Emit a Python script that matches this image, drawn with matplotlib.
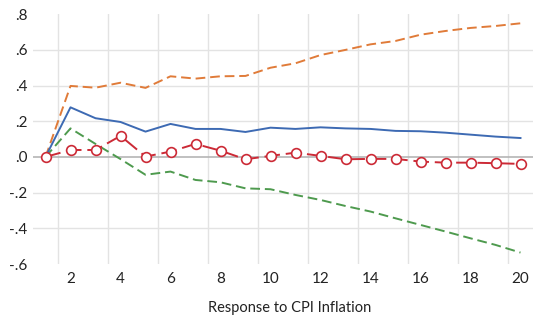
import matplotlib
matplotlib.use("Agg")
import matplotlib.pyplot as plt
import numpy as np

plt.rcParams['font.family'] = ['Lato', 'DejaVu Sans']

periods = list(range(1, 21))

# impulse response (point estimate) and its bands
response = [0.0, 0.278, 0.217, 0.196, 0.142, 0.185, 0.157, 0.157, 0.140, 0.164,
            0.157, 0.166, 0.160, 0.157, 0.146, 0.144, 0.136, 0.125, 0.114, 0.106]
upper_band = [0.0, 0.398, 0.388, 0.416, 0.387, 0.452, 0.439, 0.452, 0.454, 0.500,
              0.525, 0.571, 0.600, 0.631, 0.650, 0.685, 0.706, 0.723, 0.734, 0.749]
lower_band = [0.0, 0.160, 0.073, -0.012, -0.100, -0.082, -0.129, -0.142, -0.176, -0.181,
              -0.213, -0.241, -0.275, -0.306, -0.344, -0.381, -0.418, -0.456, -0.493, -0.536]
alt_response = [0.0, 0.039, 0.039, 0.118, 0.002, 0.030, 0.073, 0.035, -0.013, 0.006,
                0.024, 0.006, -0.013, -0.011, -0.011, -0.026, -0.032, -0.032, -0.035, -0.039]

x_ticks = [2, 4, 6, 8, 10, 12, 14, 16, 18, 20]
y_ticks = [-0.6, -0.4, -0.2, 0.0, 0.2, 0.4, 0.6, 0.8]
y_tick_labels = ['-.6', '-.4', '-.2', '.0', '.2', '.4', '.6', '.8']
x_title = 'Response to CPI Inflation'

fig = plt.figure(figsize=(5.37, 3.25), dpi=100)
ax = fig.add_axes([33 / 537, 1 - 264 / 325, 500 / 537, (264 - 14.2) / 325])

# grid: horizontal at interior value ticks, vertical between category pairs
for y in y_ticks[1:-1]:
    if y != 0.0:
        ax.axhline(y, color='#e3e3e3', lw=1.0, zorder=0)
ax.axhline(0.0, color='#b5b5b5', lw=1.2, zorder=1)
for xv in np.arange(1.5, 20.0, 2.0):
    ax.axvline(xv, color='#e3e3e3', lw=1.0, zorder=0)

ax.plot(periods, upper_band, color='#e07b39', lw=1.4, dashes=(5, 2.5), zorder=3)
ax.plot(periods, lower_band, color='#4e9a4e', lw=1.4, dashes=(5, 2.5), zorder=3)
ax.plot(periods, response, color='#3d6ab3', lw=1.4, zorder=4)
ax.plot(periods, alt_response, color='#cc2a36', lw=1.4, dashes=(8, 3),
        marker='o', markersize=7, markerfacecolor='white',
        markeredgecolor='#cc2a36', markeredgewidth=1.2, zorder=5)

ax.set_xlim(0.5, 20.5)
ax.set_ylim(-0.6, 0.8)
ax.set_xticks(x_ticks)
ax.set_xticklabels([str(t) for t in x_ticks])
ax.set_yticks(y_ticks)
ax.set_yticklabels(y_tick_labels)
ax.tick_params(axis='both', length=0, labelsize=11, colors='#222222')
ax.tick_params(axis='y', pad=4)
ax.tick_params(axis='x', pad=6)
for s in ax.spines.values():
    s.set_visible(False)

fig.text(290 / 537, 1 - 308 / 325, x_title, ha='center', va='center',
         fontsize=10.5, color='#222222')

fig.savefig('out.png', dpi=100)
